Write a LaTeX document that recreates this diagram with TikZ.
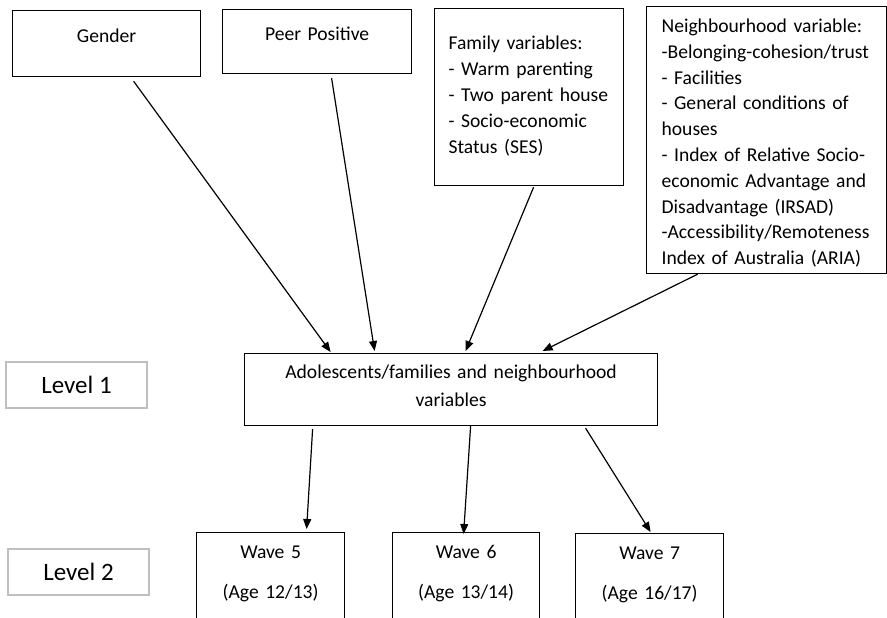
\documentclass[tikz,border=0pt]{standalone}
\usepackage{fontspec}
\setmainfont{Carlito}
\usetikzlibrary{arrows.meta}
\definecolor{levelgray}{RGB}{191,191,191}
\tikzset{
    varbox/.style = {draw, black, line width=1.2pt, inner sep=0pt, anchor=north west, font=\fontsize{19.6}{26}\selectfont},
    levelbox/.style = {draw=levelgray, line width=1.5pt, inner sep=0pt, minimum width=141pt, minimum height=46pt, font=\fontsize{25}{30}\selectfont},
    wavebox/.style = {varbox, text width=148pt, align=center, text height=26pt, text depth=110pt, font=\fontsize{19.6}{40}\selectfont},
    link/.style = {-{Triangle[length=10pt,width=8pt]}, line width=1.2pt},
}

\begin{document}
\begin{tikzpicture}[x=1pt, y=-1pt]
            \useasboundingbox (0,0) rectangle (887,618);
            \clip (0,0) rectangle (887,618);

            \node[varbox, text width=188pt, align=center, text height=32pt, text depth=34pt] (gender) at (12,10) {Gender};
            \node[varbox, text width=189pt, align=center, text height=31pt, text depth=33pt] (peer) at (222,9) {Peer Positive};
            \node[varbox, text width=161pt, inner xsep=14pt, align=left, text height=41pt, text depth=136pt] (family) at (434,8)
                {Family variables:\\- Warm parenting\\- Two parent house\\- Socio-economic\\Status (SES)};
            \node[varbox, text width=210pt, inner xsep=15pt, align=left, text height=26pt, text depth=241pt, font=\fontsize{19.6}{25.8}\selectfont] (neigh) at (646,6)
                {Neighbourhood variable:\\-Belonging-cohesion/trust\\- Facilities\\- General conditions of\\houses\\- Index of Relative Socio-\\economic Advantage and\\Disadvantage (IRSAD)\\-Accessibility/Remoteness\\Index of Australia (ARIA)};

            \node[varbox, text width=413pt, align=center, text height=25pt, text depth=47pt, font=\fontsize{19.6}{27.5}\selectfont] (main) at (244,353)
                {Adolescents/families and neighbourhood\\variables};
            \node[levelbox] (levone) at (76.5,385) {Level 1};

            \node[wavebox] (wavefive) at (196,532) {Wave 5\\(Age 12/13)};
            \node[wavebox, text width=147pt] (wavesix) at (392,532) {Wave 6\\(Age 13/14)};
            \node[wavebox] (waveseven) at (575,533) {Wave 7\\(Age 16/17)};
            \node[levelbox] (levtwo) at (78.5,572) {Level 2};

            \draw[link] ([xshift=27pt,yshift=-4pt]gender.south) -- ([xshift=-120.5pt,yshift=1pt]main.north);
            \draw[link] ([xshift=14.5pt,yshift=-4pt]peer.south) -- ([xshift=-76.5pt,yshift=2pt]main.north);
            \draw[link] ([xshift=4.5pt,yshift=-1pt]family.south) -- ([xshift=14.5pt,yshift=2pt]main.north);
            \draw[link] ([xshift=-69pt]neigh.south) -- ([xshift=91.5pt,yshift=2pt]main.north);

            \draw[link] ([xshift=-138.5pt,yshift=-3pt]main.south) -- ([xshift=36pt,yshift=3pt]wavefive.north);
            \draw[link] ([xshift=19.5pt]main.south) -- ([xshift=-2.5pt,yshift=-2pt]wavesix.north);
            \draw[link] ([xshift=134.5pt,yshift=-2pt]main.south) -- ([xshift=1pt,yshift=1pt]waveseven.north);
        \end{tikzpicture}
\end{document}
